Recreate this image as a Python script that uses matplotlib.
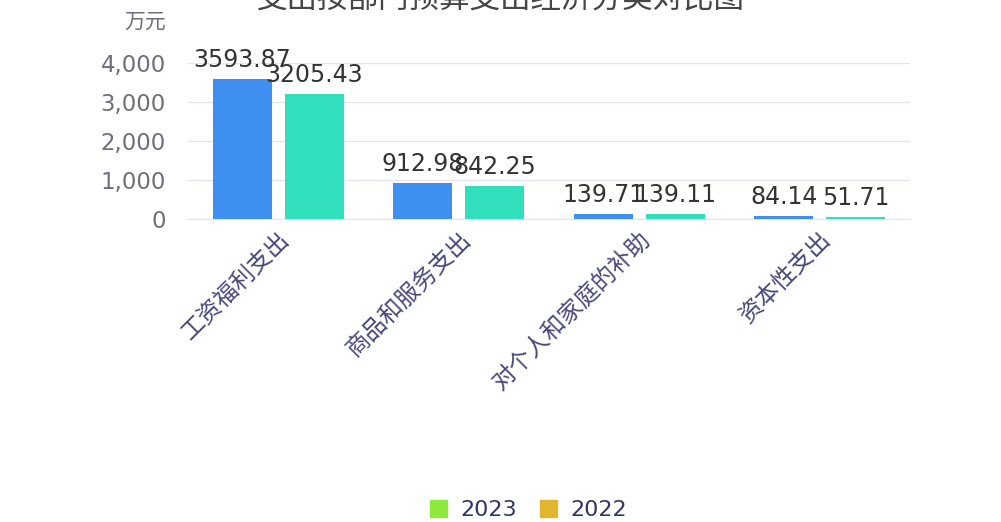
import matplotlib.pyplot as plt
from matplotlib.patches import Patch
from matplotlib.ticker import FuncFormatter
import numpy as np

plt.rcParams['font.family'] = ['Noto Sans CJK SC', 'DejaVu Sans']

# ─── Data ───────────────────────────────────────────────────────────────────────
categories = ["工资福利支出", "商品和服务支出", "对个人和家庭的补助", "资本性支出"]
values_2023 = [3593.87, 912.98, 139.71, 84.14]
values_2022 = [3205.43, 842.25, 139.11, 51.71]
series_names = ["2023", "2022"]
title = "支出按部门预算支出经济分类对比图"
unit = "万元"

bar_colors = ["#3f8ff1", "#31dfbc"]
legend_colors = ["#8fe83c", "#e0b530"]

# ─── Figure ─────────────────────────────────────────────────────────────────────
fig = plt.figure(figsize=(10.01, 5.22), dpi=100)
ax = fig.add_axes([0.1878, 0.5805, 0.7212, 0.2988])

x = np.arange(len(categories))
w = 0.327
off = 0.2
b1 = ax.bar(x - off, values_2023, w, color=bar_colors[0], zorder=3)
b2 = ax.bar(x + off, values_2022, w, color=bar_colors[1], zorder=3)

for bars, vals in [(b1, values_2023), (b2, values_2022)]:
    for rect, v in zip(bars, vals):
        ax.annotate(f"{v:.2f}", (rect.get_x() + rect.get_width() / 2, v),
                    xytext=(0, 5), textcoords="offset points",
                    ha="center", va="bottom", fontsize=17, color="#333333",
                    family="DejaVu Sans", zorder=4)

ax.set_xlim(-0.5, len(categories) - 0.5)
ax.set_ylim(0, 4000)
ax.set_yticks([0, 1000, 2000, 3000, 4000])
ax.yaxis.set_major_formatter(FuncFormatter(lambda v, p: f"{int(v):,}"))
ax.tick_params(axis="y", length=0, labelsize=16.5, labelcolor="#6e7079", pad=16)
for lab in ax.get_yticklabels():
    lab.set_family("DejaVu Sans")
ax.grid(axis="y", color="#e0e6f1", linewidth=1, zorder=0)

ax.set_xticks(x)
ax.set_xticklabels(categories, rotation=45, ha="right", va="top",
                   rotation_mode="anchor", fontsize=17, color="#48487a")
ax.tick_params(axis="x", length=0, pad=6)
for lab in ax.get_xticklabels():
    lab.set_x(lab.get_position()[0])

for s in ["top", "right", "left"]:
    ax.spines[s].set_visible(False)
ax.spines["bottom"].set_color("#e0e6f1")

fig.text(0.5, 1 - 14 / 522, title, ha="center", va="bottom",
         fontsize=22, color="#464646")
fig.text(0.145, 1 - 22 / 522, unit, ha="center", va="center",
         fontsize=15, color="#6e7079")

handles = [Patch(color=c, label=n) for c, n in zip(legend_colors, series_names)]
leg = fig.legend(handles=handles, loc="center", bbox_to_anchor=(0.528, 1 - 510 / 522),
                 ncol=2, frameon=False, fontsize=16, handlelength=0.8, handleheight=0.8,
                 handletextpad=0.6, columnspacing=1.0, labelcolor="#333366")
for t in leg.get_texts():
    t.set_family("DejaVu Sans")

fig.savefig("out.png", dpi=100)
